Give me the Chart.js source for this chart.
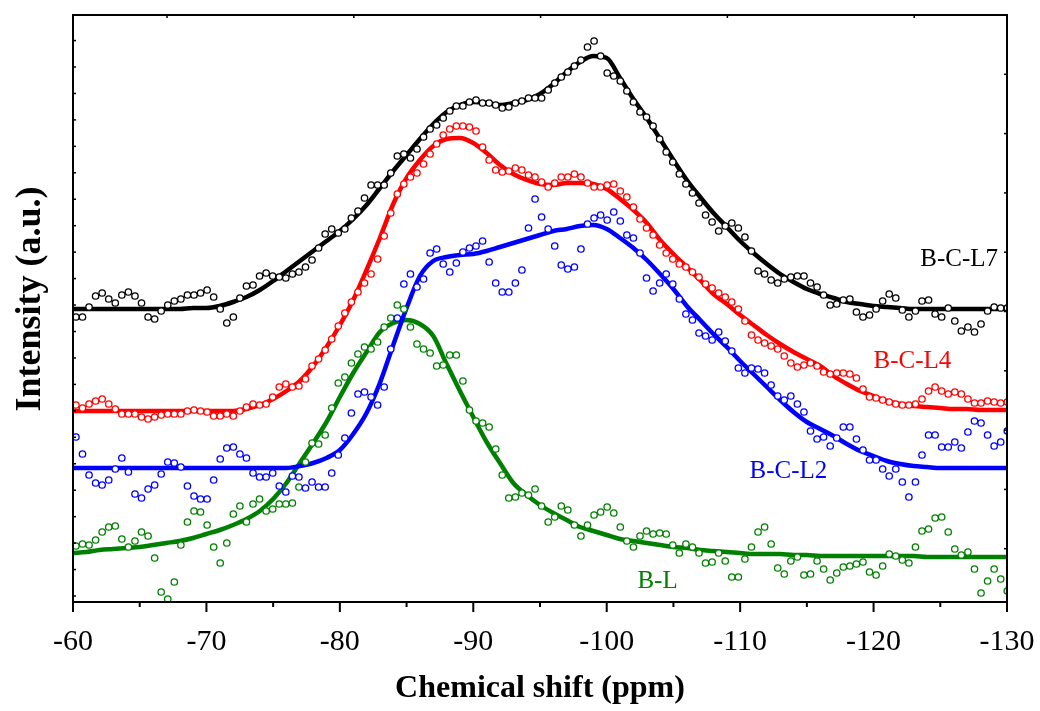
<!DOCTYPE html>
<html>
<head>
<meta charset="utf-8">
<script src="https://cdn.jsdelivr.net/npm/chart.js@4.4.1/dist/chart.umd.min.js"></script>
<style>
  body { margin: 0; background: #ffffff; }
  #wrap { position: relative; width: 1040px; height: 711px; }
</style>
</head>
<body>
<div id="wrap"><canvas id="nmr"></canvas></div>
<script>
// chemical shift of the first and last measured point (ppm)
const pointShiftStart = -60.22;
const pointShiftEnd = -130.02;

// fitted curves are given every 1 ppm from -60 to -130
const fitShift = [];
for (let s = -60; s >= -130; s--) fitShift.push(s);

// measured points, intensity in a.u.
const bcl7Points = [
  285, 285, 295, 306, 309, 303, 299, 307, 310, 306, 299, 285, 283, 291, 297, 301, 303, 307, 307, 309,
  312, 305, 293, 279, 285, 304, 316, 317, 326, 329, 326, 325, 324, 328, 330, 335, 342, 354, 368, 373,
  369, 373, 384, 391, 404, 417, 417, 417, 429, 446, 448, 444, 453, 465, 473, 477, 484, 491, 496, 496,
  500, 502, 499, 499, 497, 494, 495, 499, 501, 504, 504, 504, 512, 519, 525, 530, 536, 542, 555, 561,
  546, 529, 526, 521, 511, 500, 490, 485, 476, 463, 450, 440, 428, 418, 409, 399, 387, 380, 371, 376,
  379, 374, 365, 351, 331, 328, 322, 319, 323, 325, 326, 326, 319, 315, 307, 297, 298, 302, 303, 290,
  285, 287, 293, 301, 308, 304, 292, 285, 291, 301, 302, 288, 285, 294, 281, 271, 275, 270, 278, 291,
  295, 294, 294
];
const bcl4Points = [
  197, 194, 198, 201, 203, 198, 193, 188, 188, 188, 185, 183, 185, 187, 188, 188, 188, 191, 192, 191,
  190, 186, 186, 188, 186, 191, 195, 198, 197, 198, 205, 215, 218, 215, 216, 223, 236, 243, 252, 263,
  276, 289, 300, 310, 319, 328, 343, 366, 389, 408, 418, 425, 429, 438, 448, 458, 467, 473, 476, 476,
  475, 471, 455, 442, 432, 430, 431, 434, 432, 427, 425, 420, 415, 419, 425, 425, 428, 425, 419, 415,
  415, 417, 418, 411, 405, 395, 383, 374, 367, 357, 349, 343, 338, 335, 330, 325, 318, 314, 309, 305,
  300, 293, 281, 267, 262, 259, 256, 253, 246, 239, 235, 237, 239, 236, 230, 228, 229, 229, 228, 224,
  213, 205, 204, 202, 200, 198, 197, 197, 198, 203, 211, 215, 211, 208, 210, 208, 203, 199, 199, 201,
  200, 199, 200
];
const bcl2Points = [
  165, 148, 127, 119, 117, 122, 133, 144, 130, 108, 104, 113, 117, 128, 140, 139, 135, 116, 106, 103,
  103, 122, 143, 154, 155, 148, 144, 129, 125, 125, 129, 116, 110, 126, 125, 114, 120, 115, 115, 129,
  147, 164, 189, 208, 210, 205, 197, 215, 253, 284, 318, 328, 315, 323, 349, 353, 338, 330, 339, 350,
  354, 356, 361, 340, 319, 310, 310, 319, 332, 374, 403, 385, 373, 356, 337, 333, 335, 353, 378, 384,
  387, 382, 390, 381, 367, 364, 349, 324, 311, 319, 328, 318, 303, 288, 282, 269, 266, 262, 270, 261,
  251, 234, 229, 234, 233, 229, 217, 206, 202, 206, 198, 190, 171, 163, 165, 156, 164, 175, 175, 163,
  152, 142, 142, 133, 126, 133, 120, 105, 120, 147, 167, 167, 155, 155, 160, 154, 170, 181, 179, 167,
  156, 160, 171
];
const blPoints = [
  56, 58, 57, 62, 70, 75, 76, 63, 55, 61, 70, 66, 44, 10, 3, 20, 57, 80, 91, 90,
  77, 55, 39, 59, 88, 96, 80, 98, 103, 91, 93, 98, 98, 99, 115, 140, 159, 158, 167, 194,
  219, 225, 239, 248, 255, 253, 260, 275, 284, 297, 293, 275, 258, 253, 249, 236, 237, 247, 247, 221,
  192, 181, 179, 175, 153, 127, 104, 105, 109, 107, 113, 96, 80, 85, 96, 92, 77, 66, 77, 87,
  90, 95, 89, 75, 61, 55, 66, 71, 68, 69, 68, 57, 49, 58, 55, 49, 39, 40, 49, 41,
  25, 25, 43, 55, 70, 75, 58, 34, 28, 41, 45, 27, 28, 41, 33, 22, 29, 35, 36, 38,
  40, 30, 27, 36, 48, 46, 42, 39, 55, 71, 73, 84, 85, 70, 53, 47, 50, 33, 9, 21,
  33, 23, 11
];

// fitted curves, one value per ppm (-60 ... -130)
const bcl7Fit = [
  293, 293, 293, 293, 293, 293, 293, 293, 293, 294, 294,
  296, 300, 305, 312, 321, 331, 341, 351, 361, 371,
  383, 397, 414, 431, 447, 463, 478, 490, 497, 500,
  499, 497, 499, 502, 508, 518, 530, 540, 546, 544,
  524, 503, 484, 463, 442, 422, 405, 389, 375, 361,
  349, 338, 328, 320, 313, 308, 304, 300, 298, 296,
  295, 294, 293, 293, 293, 293, 293, 293, 293, 293
];
const bcl4Fit = [
  191, 191, 191, 191, 191, 191, 191, 191, 191, 191, 191,
  191, 191, 193, 197, 203, 211, 221, 236, 255, 277,
  302, 332, 364, 398, 424, 442, 456, 463, 464, 459,
  449, 437, 428, 422, 418, 417, 419, 419, 418, 413,
  403, 392, 379, 362, 348, 335, 322, 308, 298, 287,
  277, 267, 258, 250, 243, 236, 226, 218, 211, 206,
  201, 198, 196, 195, 194, 193, 193, 192, 192, 192
];
const bcl2Fit = [
  134, 134, 134, 134, 134, 134, 134, 134, 134, 134, 134,
  134, 134, 134, 134, 134, 134, 136, 139, 144, 152,
  168, 189, 219, 257, 294, 326, 341, 345, 347, 348,
  351, 355, 359, 363, 367, 371, 373, 376, 377, 373,
  364, 354, 342, 328, 313, 296, 282, 268, 255, 241,
  228, 215, 202, 190, 180, 173, 166, 158, 151, 146,
  141, 138, 136, 135, 134, 134, 134, 134, 134, 134
];
const blFit = [
  49, 50, 52, 53, 54, 55, 57, 59, 61, 64, 68,
  72, 77, 83, 91, 103, 119, 139, 159, 180, 205,
  229, 250, 270, 279, 282, 278, 266, 238, 211, 185,
  160, 139, 119, 107, 97, 89, 82, 75, 71, 67,
  63, 61, 59, 57, 55, 54, 52, 51, 50, 49,
  48, 48, 48, 47, 47, 46, 46, 46, 46, 46,
  46, 46, 46, 45, 45, 45, 45, 45, 45, 45
];

const xTickValues = [-60, -70, -80, -90, -100, -110, -120, -130];

const seriesLabels = [
  { text: 'B-C-L7', x: -123.5, y: 343, color: '#000000' },
  { text: 'B-C-L4', x: -120.0, y: 241, color: '#ff0000' },
  { text: 'B-C-L2', x: -110.7, y: 131, color: '#0000ff' },
  { text: 'B-L', x: -102.3, y: 21, color: '#008000' }
];

function toPoints(values) {
  const step = (pointShiftEnd - pointShiftStart) / (values.length - 1);
  return values.map((v, i) => ({ x: pointShiftStart + step * i, y: v }));
}

function toFit(values) {
  return values.map((v, i) => ({ x: fitShift[i], y: v }));
}

function fitSet(label, values, color) {
  return {
    label: label,
    data: toFit(values),
    showLine: true,
    borderColor: color,
    borderWidth: 4.5,
    pointRadius: 0,
    cubicInterpolationMode: 'monotone',
    order: 2
  };
}

function pointSet(label, values, color) {
  return {
    label: label,
    data: toPoints(values),
    showLine: false,
    borderColor: color,
    backgroundColor: '#ffffff',
    borderWidth: 1.3,
    pointRadius: 3.2,
    order: 1
  };
}

const framePlugin = {
  id: 'frame',
  afterDatasetsDraw(chart) {
    const { ctx, chartArea: a, scales: { x, y } } = chart;
    ctx.save();
    ctx.strokeStyle = '#000000';
    ctx.lineWidth = 2;
    ctx.strokeRect(a.left, a.top, a.right - a.left, a.bottom - a.top);

    // bottom ticks, major every 10 ppm and minor every 5
    for (let s = -60; s >= -130; s -= 5) {
      const px = x.getPixelForValue(s);
      const len = s % 10 === 0 ? 10 : 5;
      ctx.beginPath();
      ctx.moveTo(px, a.bottom);
      ctx.lineTo(px, a.bottom + len);
      ctx.stroke();
    }

    // small inward ticks on the left, right and top edges
    ctx.lineWidth = 1.5;
    for (let v = 6; v < 587; v += 26.45) {
      const py = y.getPixelForValue(v);
      ctx.beginPath();
      ctx.moveTo(a.left, py);
      ctx.lineTo(a.left + 3, py);
      ctx.stroke();
    }
    for (let v = 587 - 59.3; v > 0; v -= 59.3) {
      const py = y.getPixelForValue(v);
      ctx.beginPath();
      ctx.moveTo(a.right, py);
      ctx.lineTo(a.right - 3, py);
      ctx.stroke();
    }
    for (let px = a.left + 94; px < a.right; px += 186.8) {
      ctx.beginPath();
      ctx.moveTo(px, a.top);
      ctx.lineTo(px, a.top + 3);
      ctx.stroke();
    }

    // series names
    ctx.font = '25px "Liberation Serif", "Times New Roman", serif';
    ctx.textAlign = 'left';
    ctx.textBaseline = 'middle';
    seriesLabels.forEach(l => {
      ctx.fillStyle = l.color;
      ctx.fillText(l.text, x.getPixelForValue(l.x), y.getPixelForValue(l.y));
    });

    // axis titles
    ctx.fillStyle = '#000000';
    ctx.font = 'bold 32px "Liberation Serif", "Times New Roman", serif';
    ctx.textAlign = 'center';
    ctx.fillText('Chemical shift (ppm)', (a.left + a.right) / 2, 689);
    ctx.font = 'bold 36px "Liberation Serif", "Times New Roman", serif';
    ctx.translate(31, 299);
    ctx.rotate(-Math.PI / 2);
    ctx.fillText('Intensity (a.u.)', 0, 0);
    ctx.restore();
  }
};

Chart.defaults.font.family = '"Liberation Serif", "Times New Roman", serif';
Chart.defaults.color = '#000000';

const nmrCanvas = document.getElementById('nmr').getContext('2d');

const nmrConfig = {
  type: 'scatter',

  data: {
    datasets: [
      fitSet('B-C-L7 fit', bcl7Fit, '#000000'),
      fitSet('B-C-L4 fit', bcl4Fit, '#ff0000'),
      fitSet('B-C-L2 fit', bcl2Fit, '#0000ff'),
      fitSet('B-L fit', blFit, '#008000'),
      pointSet('B-C-L7', bcl7Points, '#000000'),
      pointSet('B-C-L4', bcl4Points, '#ff0000'),
      pointSet('B-C-L2', bcl2Points, '#0000ff'),
      pointSet('B-L', blPoints, '#008000')
    ]
  },

  options: {
    responsive: true,
    maintainAspectRatio: false,
    animation: false,
    layout: {
      padding: { left: 73, right: 33, top: 15, bottom: 0 }
    },
    scales: {
      x: {
        type: 'linear',
        min: -130,
        max: -60,
        reverse: true,
        afterFit: function (scale) {
          scale.height = 109;
          scale.paddingLeft = 0;
          scale.paddingRight = 0;
        },
        afterBuildTicks: function (scale) {
          scale.ticks = xTickValues.map(v => ({ value: v }));
        },
        grid: { display: false, drawTicks: false },
        border: { display: false },
        ticks: {
          padding: 22,
          font: { size: 30 },
          color: '#000000',
          callback: function (value) {
            return String(value);
          }
        }
      },
      y: {
        display: false,
        min: 0,
        max: 587
      }
    },
    plugins: {
      legend: { display: false },
      tooltip: { enabled: false },
      title: { display: false }
    }
  },

  plugins: [framePlugin]
};

const nmrChart = new Chart(nmrCanvas, nmrConfig);
</script>
</body>
</html>
